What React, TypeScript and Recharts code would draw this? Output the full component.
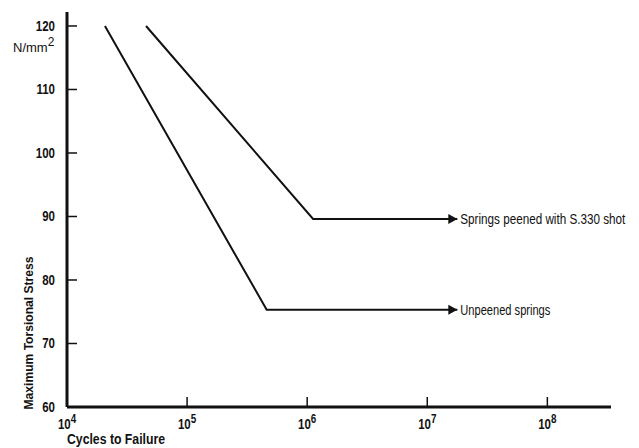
import { LineChart, Line, XAxis, YAxis, Label } from 'recharts'

// cycles to failure vs max torsional stress (N/mm2)
const unpeenedCycles = [2.07e4, 4.6e5, 1.78e7]
const unpeenedStress = [120, 75.3, 75.3]
const peenedCycles = [4.55e4, 1.12e6, 1.78e7]
const peenedStress = [120, 89.6, 89.6]

const seriesNames = ['Unpeened springs', 'Springs peened with S.330 shot']
const labelWidths = [90, 165]
const xTicks = [1e4, 1e5, 1e6, 1e7, 1e8]
const yTicks = [60, 70, 80, 90, 100, 110, 120]

const unpeened = unpeenedCycles.map((c, i) => ({ cycles: c, stress: unpeenedStress[i] }))
const peened = peenedCycles.map((c, i) => ({ cycles: c, stress: peenedStress[i] }))

const font = "'Liberation Sans', Arial, sans-serif"
const ink = '#111'

function XTick(props: any) {
  const { x, y, payload } = props
  const exp = Math.round(Math.log10(payload.value))
  return (
    <g transform={`translate(${x},${y + 12}) scale(0.82,1)`}>
      <text x={0} y={0} textAnchor="middle" fontFamily={font} fontWeight="bold" fontSize={14} fill={ink}>
        10<tspan dy={-6} fontSize={12}>{exp}</tspan>
      </text>
    </g>
  )
}

function YTick(props: any) {
  const { x, y, payload } = props
  return (
    <g transform={`translate(${x},${y + 5}) scale(0.82,1)`}>
      <text x={0} y={0} textAnchor="end" fontFamily={font} fontWeight="bold" fontSize={14} fill={ink}>
        {payload.value}
      </text>
    </g>
  )
}

function arrowDot(label: string, width: number, count: number) {
  return (props: any) => {
    const { cx, cy, index } = props
    if (index !== count - 1) return <g key={index} />
    return (
      <g key={index}>
        <path d={`M${cx - 9},${cy - 5} L${cx},${cy} L${cx - 9},${cy + 5} Z`} fill={ink} />
        <text
          x={cx + 3}
          y={cy + 5}
          fontFamily={font}
          fontSize={14}
          fill={ink}
          textLength={width}
          lengthAdjust="spacingAndGlyphs"
        >
          {label}
        </text>
      </g>
    )
  }
}

export default function App() {
  return (
    <div style={{ position: 'absolute', left: 0, top: 0, background: '#fff' }}>
      <LineChart width={639} height={448} margin={{ top: 12, right: 28, left: 27, bottom: 11 }}>
        <XAxis
          dataKey="cycles"
          type="number"
          scale="log"
          domain={[1e4, Math.pow(10, 8.53)]}
          ticks={xTicks}
          height={30}
          axisLine={{ stroke: ink, strokeWidth: 3 }}
          tickLine={{ stroke: ink, strokeWidth: 1.5 }}
          tickSize={-10}
          tickMargin={20}
          tick={<XTick />}
        >
          <Label
            content={() => (
              <text
                x={67}
                y={444}
                fontFamily={font}
                fontWeight="bold"
                fontSize={14}
                fill={ink}
                textLength={98}
                lengthAdjust="spacingAndGlyphs"
              >
                Cycles to Failure
              </text>
            )}
          />
        </XAxis>
        <YAxis
          dataKey="stress"
          type="number"
          domain={[60, 122.2]}
          ticks={yTicks}
          width={40}
          axisLine={{ stroke: ink, strokeWidth: 3 }}
          tickLine={{ stroke: ink, strokeWidth: 1.5 }}
          tickSize={-10}
          tickMargin={22}
          tick={<YTick />}
        >
          <Label
            content={() => (
              <text
                x={33}
                y={333}
                transform="rotate(-90 33 333)"
                textAnchor="middle"
                fontFamily={font}
                fontWeight="bold"
                fontSize={13}
                fill={ink}
                textLength={153}
                lengthAdjust="spacingAndGlyphs"
              >
                Maximum Torsional Stress
              </text>
            )}
          />
          <Label
            content={() => (
              <text x={13} y={52} fontFamily={font} fontSize={13} fill={ink}>
                N/mm<tspan dy={-6} fontSize={12}>2</tspan>
              </text>
            )}
          />
        </YAxis>
        <Line
          data={unpeened}
          dataKey="stress"
          stroke={ink}
          strokeWidth={2}
          isAnimationActive={false}
          dot={arrowDot(seriesNames[0], labelWidths[0], unpeened.length)}
          activeDot={false}
        />
        <Line
          data={peened}
          dataKey="stress"
          stroke={ink}
          strokeWidth={2}
          isAnimationActive={false}
          dot={arrowDot(seriesNames[1], labelWidths[1], peened.length)}
          activeDot={false}
        />
      </LineChart>
    </div>
  )
}
